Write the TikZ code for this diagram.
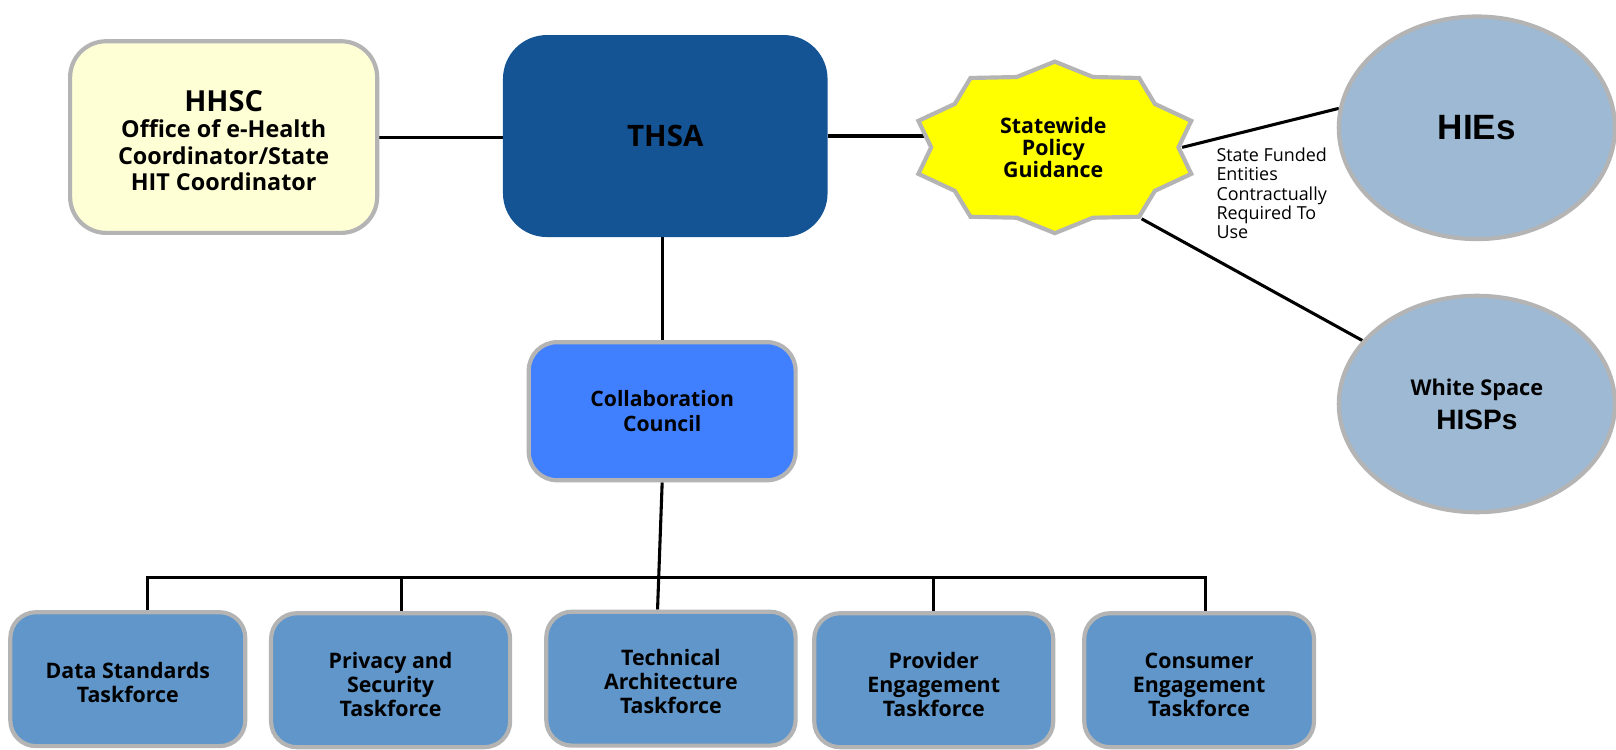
\documentclass[tikz,border=0pt]{standalone}
\usepackage{fontspec}
\setmainfont{Open Sans}
\newfontfamily\lsans{Liberation Sans}
\usetikzlibrary{shapes.geometric,backgrounds}
\definecolor{bordergray}{RGB}{180,180,180}
\definecolor{hhscfill}{RGB}{255,255,214}
\definecolor{thsafill}{RGB}{20,83,148}
\definecolor{ccfill}{RGB}{64,128,255}
\definecolor{tffill}{RGB}{96,150,201}
\definecolor{ellfill}{RGB}{157,185,211}
\definecolor{staryellow}{RGB}{255,255,0}
\tikzset{
  conn/.style={draw=black, line width=1.7pt},
  boxbase/.style={draw=bordergray, line width=2.3pt, inner sep=0pt, align=center},
  hhscbox/.style={boxbase, fill=hhscfill, rounded corners=0.7cm, minimum width=5.96cm, minimum height=3.72cm},
  thsabox/.style={fill=thsafill, rounded corners=0.85cm, minimum width=6.3cm, minimum height=3.92cm, inner sep=0pt},
  ccbox/.style={boxbase, fill=ccfill, rounded corners=0.55cm, minimum width=5.18cm, minimum height=2.68cm},
  tfbox/.style={boxbase, fill=tffill, rounded corners=0.5cm, minimum height=2.6cm},
  ellbox/.style={boxbase, ellipse, fill=ellfill},
  tftext/.style={inner sep=0pt, align=center, font=\bfseries\fontsize{11.8pt}{13.3pt}\selectfont}
}
\begin{document}
\begin{tikzpicture}[x=0.02cm, y=-0.02cm]
\useasboundingbox (0,0) rectangle (1568,727.5);
\begin{pgfonlayer}{background}
\fill[white] (0,0) rectangle (1568,727.5);
\end{pgfonlayer}

% top row
\node[hhscbox] (hhsc) at (217,133) {};
\node[inner sep=0pt, align=center, font=\bfseries\fontsize{12.9pt}{14.7pt}\selectfont] (hhsctext) at ([yshift=-0.07cm]hhsc.center)
  {{\fontsize{16pt}{16pt}\selectfont HHSC}\\Office of e-Health\\Coordinator/State\\HIT Coordinator};
\node[thsabox, font=\bfseries\fontsize{16.3pt}{18pt}\selectfont] (thsa) at (645.5,132) {THSA};

\node[shape=star, star points=10, star point ratio=1.16, minimum size=3.33cm, inner sep=0pt,
      xscale=1.672, transform shape, fill=staryellow, draw=bordergray, line width=2.3pt] (star) at (1023.5,143) {};
\node[font=\bfseries\fontsize{11.8pt}{12.1pt}\selectfont, align=center, inner sep=0pt] (startext) at (1022,143.5)
  {Statewide\\Policy\\Guidance};

\node[ellbox, minimum width=5.36cm, minimum height=4.32cm, font=\lsans\bfseries\fontsize{19.4pt}{20pt}\selectfont] (hies) at (1433,124) {HIEs};
\node[ellbox, minimum width=5.36cm, minimum height=4.2cm] (hisps) at (1433,392)
  {{\bfseries\fontsize{12pt}{17pt}\selectfont White Space}\\[4pt]{\lsans\bfseries\fontsize{15.5pt}{17pt}\selectfont HISPs}};

\node[font=\fontsize{9.9pt}{10.7pt}\selectfont, align=left, anchor=north west, inner sep=0pt] (lbl) at (1180,143)
  {State Funded\\Entities\\Contractually\\Required To\\Use};

% council
\node[ccbox, font=\bfseries\fontsize{11.7pt}{13.6pt}\selectfont] (cc) at (642.5,399) {Collaboration\\Council};

% taskforces
\node[tfbox, minimum width=4.56cm] (t1) at (124,659) {};
\node[tfbox, minimum width=4.64cm] (t2) at (379,660) {};
\node[tfbox, minimum width=4.84cm] (t3) at (651,658.5) {};
\node[tfbox, minimum width=4.64cm] (t4) at (906,660) {};
\node[tfbox, minimum width=4.46cm] (t5) at (1163.5,660) {};
\node[tftext] (t1text) at ([yshift=-0.07cm]t1.center) {Data Standards\\Taskforce};
\node[tftext] (t2text) at ([yshift=-0.09cm]t2.center) {Privacy and\\Security\\Taskforce};
\node[tftext] (t3text) at ([yshift=-0.06cm]t3.center) {Technical\\Architecture\\Taskforce};
\node[tftext] (t4text) at ([yshift=-0.09cm]t4.center) {Provider\\Engagement\\Taskforce};
\node[tftext] (t5text) at ([yshift=-0.09cm]t5.center) {Consumer\\Engagement\\Taskforce};

\coordinate (bus) at (640,560);
\coordinate (d1) at ([xshift=0.38cm]t1.north);
\coordinate (d2) at ([xshift=0.22cm]t2.north);
\coordinate (d3) at ([xshift=-0.26cm]t3.north);
\coordinate (d4) at (t4.north);
\coordinate (d5) at ([xshift=0.13cm]t5.north);

\begin{pgfonlayer}{background}
\draw[conn] (hhsc.east) -- (hhsc.east -| thsa.west);
\draw[conn] (thsa.east) -- (thsa.east -| star.west);
\draw[conn] (star.east) -- (hies.172);
\draw[conn] (star.-54) -- (hisps.151);
\draw[conn] (thsa.south -| cc.north) -- (cc.north);
\draw[conn] (cc.south) -- (d3);
\draw[conn] (d1) |- (bus -| d5) -- (d5);
\draw[conn] (d2) -- (d2 |- bus);
\draw[conn] (d4) -- (d4 |- bus);
\end{pgfonlayer}
\end{tikzpicture}
\end{document}
